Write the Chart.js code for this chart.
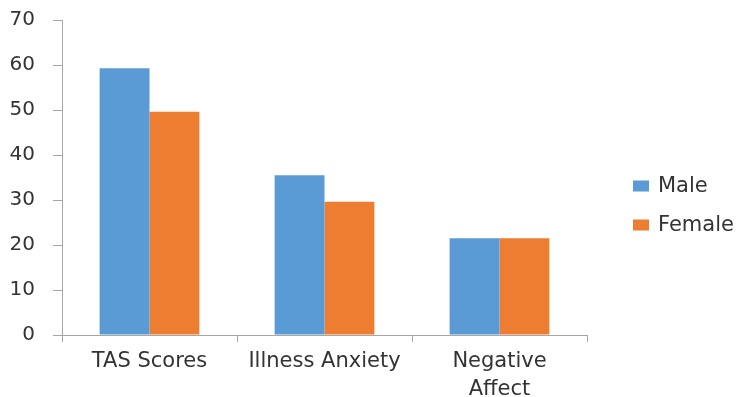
<!DOCTYPE html>
<html>
<head>
<meta charset="utf-8">
<script src="https://cdn.jsdelivr.net/npm/chart.js@4/dist/chart.umd.min.js"></script>
<style>
  html, body { margin: 0; padding: 0; background: #ffffff; }
  #wrap { width: 743px; height: 397px; }
</style>
</head>
<body>
<div id="wrap"><canvas id="chart" width="743" height="397"></canvas></div>
<script>
// Group labels along the x axis
const categories = ['TAS Scores', 'Illness Anxiety', ['Negative', 'Affect']];
// Mean scores per group
const maleScores = [59.3, 35.5, 21.5];
const femaleScores = [49.6, 29.6, 21.5];
// Value axis range and step
const yMin = 0;
const yMax = 70;
const yStep = 10;

const AXIS_GREY = '#a6a6a6';
const TEXT_COLOR = '#333333';
const FONT = 'DejaVu Sans';

// Legend drawn as a vertical list to the right of the plot
const sideLegend = {
  id: 'sideLegend',
  afterDraw(chart) {
    const ctx = chart.ctx;
    const area = chart.chartArea;
    const x0 = area.right + 46;
    const yFirst = 186;
    const gap = 39;
    ctx.save();
    ctx.font = '21px "' + FONT + '"';
    ctx.textBaseline = 'middle';
    ctx.textAlign = 'left';
    chart.data.datasets.forEach((ds, i) => {
      const yc = yFirst + i * gap;
      ctx.fillStyle = ds.backgroundColor;
      ctx.fillRect(x0, yc - 5.5, 16, 11);
      ctx.fillStyle = TEXT_COLOR;
      ctx.fillText(ds.label, x0 + 25, yc + 1);
    });
    ctx.restore();
  }
};

new Chart(document.getElementById('chart'), {
  type: 'bar',
  data: {
    labels: categories,
    datasets: [
      { label: 'Male', data: maleScores, backgroundColor: '#5B9BD5' },
      { label: 'Female', data: femaleScores, backgroundColor: '#ED7D31' }
    ]
  },
  options: {
    responsive: false,
    animation: false,
    devicePixelRatio: 1,
    layout: { padding: { top: 20, right: 156, left: 7, bottom: 0 } },
    plugins: {
      legend: { display: false },
      tooltip: { enabled: false }
    },
    datasets: {
      bar: { categoryPercentage: 0.57, barPercentage: 1.0 }
    },
    scales: {
      x: {
        grid: {
          offset: true,
          drawOnChartArea: false,
          drawTicks: true,
          tickLength: 7,
          color: AXIS_GREY
        },
        border: { color: AXIS_GREY, width: 1 },
        ticks: {
          color: TEXT_COLOR,
          font: { family: FONT, size: 21, lineHeight: 1.35 },
          padding: 5,
          maxRotation: 0,
          autoSkip: false
        },
        afterFit(scale) { scale.height = 62; }
      },
      y: {
        min: yMin,
        max: yMax,
        grid: {
          drawOnChartArea: false,
          drawTicks: true,
          tickLength: 9,
          color: AXIS_GREY
        },
        border: { color: AXIS_GREY, width: 1 },
        ticks: {
          stepSize: yStep,
          color: TEXT_COLOR,
          font: { family: FONT, size: 20 },
          padding: 18
        },
        afterFit(scale) {
          scale.width = 55;
          scale.paddingTop = 0;
          scale.paddingBottom = 0;
        }
      }
    }
  },
  plugins: [sideLegend]
});
</script>
</body>
</html>
